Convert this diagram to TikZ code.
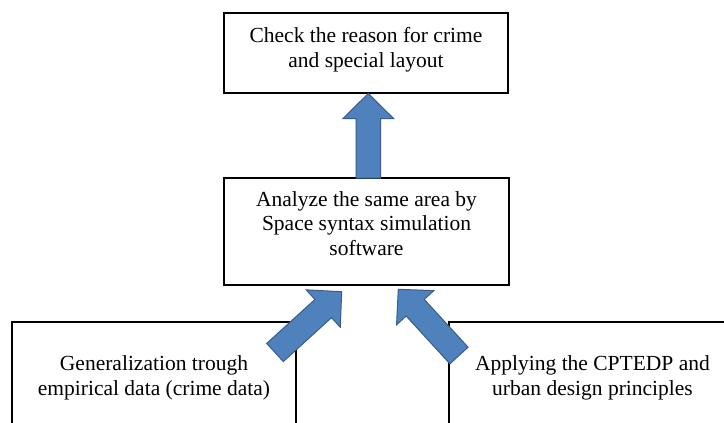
\documentclass[tikz,border=0pt]{standalone}
\usepackage{fontspec}
\setmainfont{Liberation Serif}
\usetikzlibrary{calc}
\definecolor{arrfill}{HTML}{4F81BD}
\definecolor{arrline}{HTML}{385D8A}
\newcommand\myblockarrow[3]{% #1 tail, #2 tip, #3 name
  \coordinate (#3n) at ($(#2)!25pt!(#1)$);
  \draw[blockarr] ($(#1)!12.3pt!90:(#2)$) -- ($(#3n)!12.3pt!90:(#2)$) -- ($(#3n)!25.3pt!90:(#2)$)
    -- (#2) -- ($(#3n)!25.3pt!-90:(#2)$) -- ($(#3n)!12.3pt!-90:(#2)$) -- ($(#1)!12.3pt!-90:(#2)$) -- cycle;
}
\begin{document}
\begin{tikzpicture}[x=1pt,y=-1pt,
  box/.style={draw=black,line width=1.5pt,inner sep=0pt,fill=none},
  txt/.style={align=center,inner sep=0pt,font=\fontsize{21.5}{24.5}\selectfont},
  blockarr/.style={fill=arrfill,draw=arrline,line width=1pt,line join=miter}]
\useasboundingbox (0,0) rectangle (724,423);
\clip (0,0) rectangle (724,423);
\fill[white] (0,0) rectangle (724,423);
% boxes
\node[box,minimum width=284pt,minimum height=80pt] (top) at (366,53) {};
\node[txt] (toptext) at (366,49.7) {Check the reason for crime\\and special layout};
\node[box,minimum width=285pt,minimum height=107pt] (mid) at (366.5,231.5) {};
\node[txt] (midtext) at (366.5,223.5) {Analyze the same area by\\Space syntax simulation\\software};
\node[box,minimum width=284pt,minimum height=118pt] (bl) at (154,381) {};
\node[txt] (bltext) at (154,378) {Generalization trough\\empirical data (crime data)};
\node[box,minimum width=287pt,minimum height=118pt] (br) at (592.5,381) {};
\node[txt] (brtext) at (592.5,378) {Applying the CPTEDP and\\urban design principles};
% arrow end points
\coordinate (a1tail) at (368.3,178);
\coordinate (a1tip) at (368.3,93.5);
\coordinate (a2tail) at (275,352.5);
\coordinate (a2tip) at (341.7,291.7);
\coordinate (a3tail) at (459,355.5);
\coordinate (a3tip) at (398.3,289.3);
\myblockarrow{a1tail}{a1tip}{a1}
\myblockarrow{a2tail}{a2tip}{a2}
\myblockarrow{a3tail}{a3tip}{a3}
\end{tikzpicture}
\end{document}
